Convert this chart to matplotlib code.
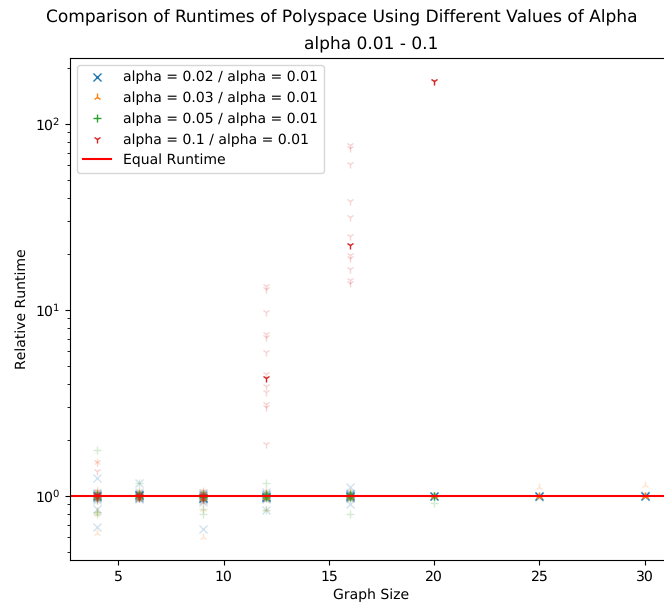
import matplotlib
matplotlib.use("Agg")
import matplotlib.pyplot as plt

plt.rcParams["text.hinting_factor"] = 1
plt.rcParams["text.hinting"] = "no_hinting"
plt.rcParams["font.size"] = 10.3

# Graph sizes used in the experiments
sizes_all = [4, 6, 9, 12, 16, 20, 25, 30]
sizes_short = [4, 6, 9, 12, 16, 20]

# Per-trial runtime ratios (alpha = a / alpha = 0.01), one list per graph size
ratio_002 = [
    [1.25, 1.04, 1.02, 1.0, 0.98, 0.97, 0.95, 0.85, 0.68, 1.01, 0.99, 1.03],
    [1.18, 1.05, 1.03, 1.01, 1.0, 0.99, 0.98, 0.97, 0.96, 1.02, 1.0, 0.99],
    [1.04, 1.02, 1.0, 0.99, 0.97, 0.96, 0.95, 0.93, 0.66, 1.01, 0.98, 1.0],
    [1.05, 1.03, 1.01, 1.0, 0.99, 0.98, 0.97, 0.96, 0.84, 1.02, 1.0, 0.99],
    [1.12, 1.04, 1.02, 1.0, 0.99, 0.98, 0.97, 0.905, 1.01, 1.0, 0.99, 1.03],
    [1.0],
    [1.0, 0.99],
    [1.0, 1.01],
]
ratio_003 = [
    [1.52, 1.08, 1.04, 1.02, 1.0, 0.98, 0.96, 0.83, 0.80, 0.635, 1.01, 0.99],
    [1.06, 1.04, 1.02, 1.0, 0.99, 0.98, 0.97, 1.01, 1.0, 0.99, 1.03, 0.96],
    [1.06, 1.04, 1.01, 1.0, 0.98, 0.96, 0.93, 0.85, 0.60, 1.02, 0.99, 0.97],
    [1.06, 1.04, 1.02, 1.0, 0.99, 0.97, 0.95, 0.85, 1.01, 1.0, 0.98, 1.03],
    [1.05, 1.03, 1.01, 1.0, 0.99, 0.97, 0.96, 1.02, 1.0, 0.98, 1.04, 0.99],
    [1.0],
    [1.12, 1.0, 0.98, 1.0],
    [1.14, 1.0, 0.99, 1.0],
]
ratio_005 = [
    [1.76, 1.05, 1.03, 1.0, 0.99, 0.97, 0.95, 0.82, 0.80, 1.01, 1.0, 0.98],
    [1.18, 1.05, 1.02, 1.0, 0.99, 0.97, 1.01, 1.0, 0.98, 1.03, 0.99, 1.0],
    [1.05, 1.03, 1.01, 1.0, 0.98, 0.96, 0.85, 0.80, 1.02, 0.99, 0.97, 1.0],
    [1.18, 1.04, 1.02, 1.0, 0.99, 0.97, 0.84, 1.01, 1.0, 0.98, 1.03, 0.99],
    [1.04, 1.02, 1.0, 0.99, 0.97, 0.80, 1.01, 1.0, 0.98, 1.03, 0.99, 1.0],
    [1.0, 0.92],
]
ratio_01 = [
    [1.52, 1.36, 1.06, 1.03, 1.0, 0.99, 0.97, 0.95, 1.01, 1.0, 0.98, 1.02],
    [1.05, 1.03, 1.01, 1.0, 0.99, 0.97, 1.02, 1.0, 0.98, 1.01, 0.99, 1.0],
    [1.06, 1.04, 1.02, 1.0, 0.98, 0.96, 0.94, 1.01, 1.0, 0.99, 0.97, 1.03],
    [13.4, 12.9, 9.7, 7.4, 7.1, 5.9, 4.5, 3.9, 3.6, 3.1, 3.0, 1.9],
    [76.6, 73.6, 60.8, 38.2, 31.4, 25.0, 19.6, 19.1, 16.5, 14.5, 14.0],
    [170.0],
]

# Aggregate ratio per graph size
agg_002 = [1.0, 1.01, 0.98, 0.99, 1.0, 1.0, 1.0, 1.0]
agg_003 = [1.0, 1.0, 0.98, 0.99, 1.0, 1.0, 1.0, 1.0]
agg_005 = [1.0, 1.0, 0.99, 1.0, 1.0, 1.0]
agg_01 = [1.01, 1.0, 1.0, 4.3, 22.4, 170.0]

labels = [
    "alpha = 0.02 / alpha = 0.01",
    "alpha = 0.03 / alpha = 0.01",
    "alpha = 0.05 / alpha = 0.01",
    "alpha = 0.1 / alpha = 0.01",
]

series = [
    (sizes_all, ratio_002, agg_002, "x", "C0"),
    (sizes_all, ratio_003, agg_003, "2", "C1"),
    (sizes_short, ratio_005, agg_005, "+", "C2"),
    (sizes_short, ratio_01, agg_01, "1", "C3"),
]

fig = plt.figure(figsize=(6.64, 6.08), dpi=100)
ax = fig.add_axes([70 / 664, 48 / 608, 602 / 664, 502 / 608])

for (sizes, trials, agg, marker, color), label in zip(series, labels):
    xs = []
    ys = []
    for s, vals in zip(sizes, trials):
        xs.extend([s] * len(vals))
        ys.extend(vals)
    ax.plot(xs, ys, linestyle="none", marker=marker, color=color, alpha=0.2)
    ax.plot(sizes, agg, linestyle="none", marker=marker, color=color,
            label=label)

ax.axhline(1, color="red", label="Equal Runtime")
ax.set_yscale("log")
ax.set_xlabel("Graph Size")
ax.set_ylabel("Relative Runtime")
ax.set_title("alpha 0.01 - 0.1")
fig.suptitle("Comparison of Runtimes of Polyspace Using Different Values of Alpha",
             x=342 / 664, y=0.985)
ax.legend(loc="upper left")

fig.savefig("out.png", dpi=100)
